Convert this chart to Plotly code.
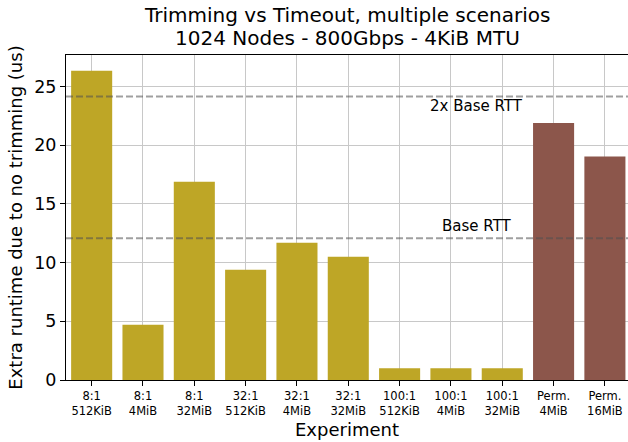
import plotly.graph_objects as go

categories = ["8:1<br>512KiB", "8:1<br>4MiB", "8:1<br>32MiB",
              "32:1<br>512KiB", "32:1<br>4MiB", "32:1<br>32MiB",
              "100:1<br>512KiB", "100:1<br>4MiB", "100:1<br>32MiB",
              "Perm.<br>4MiB", "Perm.<br>16MiB"]
extra_runtime = [26.35, 4.7, 16.9, 9.4, 11.7, 10.5, 1.0, 1.0, 1.0, 21.9, 19.05]
groups = ["incast"] * 9 + ["perm"] * 2
base_rtt = 12.08
ref_lines = [("Base RTT", base_rtt), ("2x Base RTT", 2 * base_rtt)]
title_lines = ["Trimming vs Timeout, multiple scenarios", "1024 Nodes - 800Gbps - 4KiB MTU"]

group_colors = {"incast": "#bea626", "perm": "#8c564b"}
FONT = "DejaVu Sans"

fig = go.Figure()
fig.add_trace(go.Bar(
    x=categories, y=extra_runtime,
    marker=dict(color=[group_colors[g] for g in groups], line=dict(width=0)),
    width=0.8, showlegend=False,
))

for name, val in ref_lines:
    fig.add_shape(type="line", xref="paper", x0=0, x1=1, yref="y", y0=val, y1=val,
                  line=dict(color="rgba(80,80,80,0.55)", width=2, dash="7px,3px"),
                  layer="above")

# labels: "2x Base RTT" below its line, "Base RTT" above its line
fig.add_annotation(x=7.5, y=ref_lines[1][1], text=ref_lines[1][0], showarrow=False,
                   yanchor="top", yshift=1, font=dict(family=FONT, size=15, color="black"))
fig.add_annotation(x=7.5, y=ref_lines[0][1], text=ref_lines[0][0], showarrow=False,
                   yanchor="bottom", yshift=1, font=dict(family=FONT, size=15, color="black"))

# two-line title
for txt, ypos in zip(title_lines, [1.124, 1.052]):
    fig.add_annotation(x=0.5, xref="paper", y=ypos, yref="paper", text=txt, showarrow=False,
                       xanchor="center", yanchor="middle",
                       font=dict(family=FONT, size=20, color="black"))

fig.update_layout(
    width=628, height=442,
    margin=dict(l=66, r=0, t=55, b=62),
    paper_bgcolor="white", plot_bgcolor="white",
    font=dict(family=FONT, color="black"),
    bargap=0.2,
)
fig.update_xaxes(
    type="category", range=[-0.5, 10.45],
    showgrid=True, gridcolor="#c8c8c8", gridwidth=1,
    showline=True, linecolor="black", linewidth=1, mirror=True,
    ticks="outside", ticklen=5, tickcolor="black",
    tickfont=dict(family=FONT, size=11.5, color="black"),
    title=dict(text="Experiment", font=dict(family=FONT, size=18, color="black"), standoff=6),
)
fig.update_yaxes(
    range=[0, 27.69], dtick=5, tick0=0,
    showgrid=True, gridcolor="#c8c8c8", gridwidth=1, zeroline=False,
    showline=True, linecolor="black", linewidth=1,
    ticks="outside", ticklen=5, tickcolor="black",
    tickfont=dict(family=FONT, size=17.5, color="black"),
    title=dict(text="Extra runtime due to no trimming (us)", font=dict(family=FONT, size=18, color="black"), standoff=6),
)

fig.write_html("out.html", config={"displayModeBar": False},
               post_script="document.body.style.margin='0';")
